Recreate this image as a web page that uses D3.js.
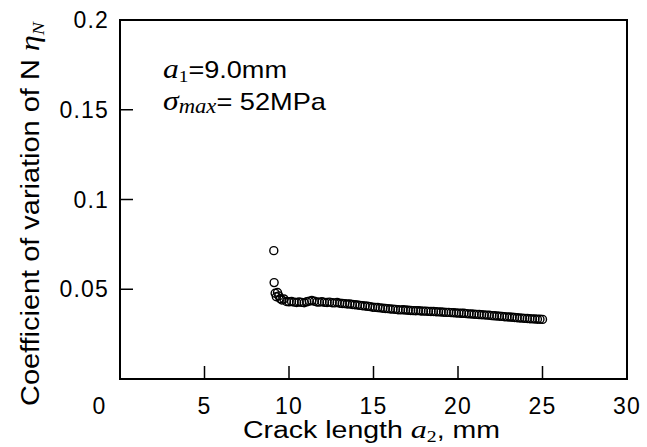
<!DOCTYPE html>
<html><head><meta charset="utf-8">
<script src="https://cdn.jsdelivr.net/npm/d3@7"></script>
<style>body{margin:0;background:#fff}svg{display:block}text{font-family:"Liberation Sans",Arial,sans-serif;fill:#000}</style>
</head><body>
<svg id="c" width="647" height="447"></svg>
<script>
// Crack length a2 (mm)
const crackLength = [9.10,9.12,9.18,9.25,9.32,9.40,9.48,9.58,9.70,9.85,10.00,10.15,10.30,10.45,10.60,10.75,10.90,11.05,11.20,11.35,11.50,11.65,11.80,11.95,12.10,12.25,12.40,12.55,12.70,12.85,13.00,13.15,13.30,13.45,13.60,13.75,13.90,14.05,14.20,14.35,14.50,14.65,14.80,14.95,15.10,15.25,15.40,15.55,15.70,15.85,16.00,16.15,16.30,16.45,16.60,16.75,16.90,17.05,17.20,17.35,17.50,17.65,17.80,17.95,18.10,18.25,18.40,18.55,18.70,18.85,19.00,19.15,19.30,19.45,19.60,19.75,19.90,20.05,20.20,20.35,20.50,20.65,20.80,20.95,21.10,21.25,21.40,21.55,21.70,21.85,22.00,22.15,22.30,22.45,22.60,22.75,22.90,23.05,23.20,23.35,23.50,23.65,23.80,23.95,24.10,24.25,24.40,24.55,24.70,24.85,25.00];
// Coefficient of variation of N
const cvN = [0.0715,0.0537,0.0478,0.0458,0.0482,0.0463,0.0448,0.0440,0.0446,0.0432,0.0430,0.0432,0.0428,0.0426,0.0429,0.0427,0.0425,0.0430,0.0434,0.0437,0.0433,0.0429,0.0428,0.0431,0.0427,0.0426,0.0428,0.0425,0.0424,0.0426,0.0422,0.0421,0.0420,0.0418,0.0418,0.0415,0.0414,0.0412,0.0410,0.0408,0.0407,0.0405,0.0403,0.0400,0.0399,0.0398,0.0396,0.0394,0.0393,0.0392,0.0390,0.0389,0.0388,0.0386,0.0385,0.0386,0.0384,0.0383,0.0382,0.0381,0.0380,0.0381,0.0379,0.0378,0.0378,0.0377,0.0376,0.0376,0.0375,0.0374,0.0373,0.0372,0.0371,0.0371,0.0370,0.0369,0.0368,0.0367,0.0366,0.0366,0.0364,0.0363,0.0362,0.0361,0.0360,0.0359,0.0358,0.0357,0.0356,0.0355,0.0353,0.0352,0.0351,0.0350,0.0349,0.0347,0.0346,0.0345,0.0344,0.0343,0.0341,0.0340,0.0339,0.0338,0.0337,0.0336,0.0335,0.0334,0.0333,0.0333,0.0332];
const xTicks = [5,10,15,20,25,30];
const yTicks = [0.05,0.1,0.15,0.2];
const yTickLabels = ["0.05","0.1","0.15","0.2"];

const svg = d3.select("#c");
const L=120, R=627, T=20, B=379;
const x = d3.scaleLinear().domain([0,30]).range([L,R]);
const y = d3.scaleLinear().domain([0,0.2]).range([B,T]);

// frame
svg.append("rect").attr("x",L).attr("y",T).attr("width",R-L).attr("height",B-T)
  .attr("fill","none").attr("stroke","#000").attr("stroke-width",2);

// inward ticks
svg.append("g").selectAll("line").data(xTicks.slice(0,-1)).join("line")
  .attr("x1",d=>x(d)).attr("x2",d=>x(d)).attr("y1",B).attr("y2",B-13)
  .attr("stroke","#000").attr("stroke-width",1.5);
svg.append("g").selectAll("line").data(yTicks.slice(0,-1)).join("line")
  .attr("x1",L).attr("x2",L+13).attr("y1",d=>y(d)).attr("y2",d=>y(d))
  .attr("stroke","#000").attr("stroke-width",1.5);

const FS = 23;
// x tick labels
svg.append("g").selectAll("text").data(xTicks).join("text")
  .attr("x",d=>x(d)).attr("y",B+35).attr("text-anchor","middle")
  .attr("font-size",FS).attr("letter-spacing",1.2).text(d=>d);
// shared origin label
svg.append("text").attr("x",x(0)-21).attr("y",B+35).attr("text-anchor","middle")
  .attr("font-size",FS).text("0");
// y tick labels
svg.append("g").selectAll("text").data(yTicks).join("text")
  .attr("x",L-11).attr("y",d=>y(d)+8).attr("text-anchor","end")
  .attr("font-size",FS).attr("letter-spacing",1.2).text((d,i)=>yTickLabels[i]);

// axis titles
const xt = svg.append("text").attr("x",243).attr("y",438).attr("font-size",23)
  .attr("textLength",257).attr("lengthAdjust","spacingAndGlyphs");
xt.append("tspan").text("Crack length ");
xt.append("tspan").attr("font-family","Liberation Serif,serif").attr("font-style","italic").attr("font-size",26).text("a");
xt.append("tspan").attr("font-family","Liberation Serif,serif").attr("font-size",16).attr("dy",4).text("2");
xt.append("tspan").attr("dy",-4).text(", mm");

const yt = svg.append("text").attr("transform","translate(39,406) rotate(-90)").attr("font-size",25)
  .attr("textLength",384).attr("lengthAdjust","spacingAndGlyphs");
yt.append("tspan").text("Coefficient of variation of N ");
yt.append("tspan").attr("font-family","Liberation Serif,serif").attr("font-style","italic").attr("font-size",28).text("η");
yt.append("tspan").attr("font-family","Liberation Serif,serif").attr("font-style","italic").attr("font-size",17).attr("dy",5).text("N");

// annotations
const a1 = svg.append("text").attr("x",163).attr("y",78).attr("font-size",24)
  .attr("textLength",124).attr("lengthAdjust","spacingAndGlyphs");
a1.append("tspan").attr("font-family","Liberation Serif,serif").attr("font-style","italic").attr("font-size",28).text("a");
a1.append("tspan").attr("font-family","Liberation Serif,serif").attr("font-size",17).attr("dy",4).text("1");
a1.append("tspan").attr("dy",-4).text("=9.0mm");
const s1 = svg.append("text").attr("x",163).attr("y",110).attr("font-size",24)
  .attr("textLength",163).attr("lengthAdjust","spacingAndGlyphs");
s1.append("tspan").attr("font-family","Liberation Serif,serif").attr("font-style","italic").attr("font-size",28).text("σ");
s1.append("tspan").attr("font-family","Liberation Serif,serif").attr("font-style","italic").attr("font-size",20).attr("dy",3).text("max");
s1.append("tspan").attr("dy",-3).text("= 52MPa");

// data
svg.append("g").selectAll("circle").data(crackLength).join("circle")
  .attr("cx",d=>x(d)).attr("cy",(d,i)=>y(cvN[i])).attr("r",4)
  .attr("fill","none").attr("stroke","#000").attr("stroke-width",1.4);
</script>
</body></html>
